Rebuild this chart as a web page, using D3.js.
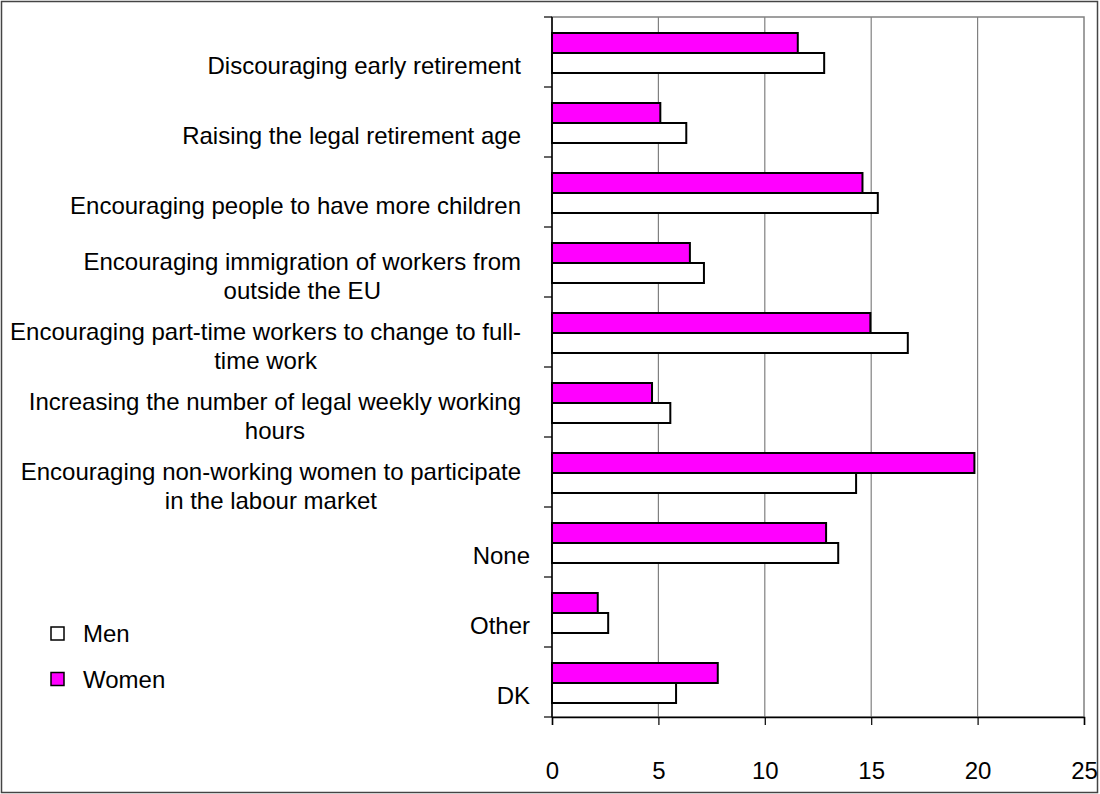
<!DOCTYPE html>
<html>
<head>
<meta charset="utf-8">
<script src="https://cdn.jsdelivr.net/npm/d3@7"></script>
<style>
  body { margin: 0; background: #fff; }
  text { font-family: "Liberation Sans", Arial, sans-serif; fill: #000; }
</style>
</head>
<body>
<div id="graph"></div>
<script>
// chart values
var categories = [
    "Discouraging early retirement",
    "Raising the legal retirement age",
    "Encouraging people to have more children",
    "Encouraging immigration of workers from\noutside the EU",
    "Encouraging part-time workers to change to full-\ntime work",
    "Increasing the number of legal weekly working\nhours",
    "Encouraging non-working women to participate\nin the labour market",
    "None",
    "Other",
    "DK"
];
var women = [11.55, 5.09, 14.59, 6.48, 14.96, 4.70, 19.85, 12.88, 2.15, 7.79];
var men = [12.79, 6.31, 15.31, 7.14, 16.72, 5.56, 14.29, 13.45, 2.64, 5.83];
var seriesNames = ["Women", "Men"];
var legendNames = ["Men", "Women"];
var xTicks = [0, 5, 10, 15, 20, 25];

document.addEventListener('DOMContentLoaded', function() {
    var W = 1100, H = 794;
    var margin = {top: 17, right: 16, bottom: 77, left: 552},
    w = W - margin.left - margin.right,
    h = H - margin.top - margin.bottom;

    var colors = {Men: "#ffffff", Women: "#ff00ff"};

    var x = d3.scaleLinear().domain([0, 25]).range([0, w]);
    var y = d3.scaleBand().domain(categories).range([0, h]).padding(0);
    var ySub = d3.scaleBand().domain(seriesNames).range([1, y.bandwidth() + 1]).paddingInner(0).paddingOuter(0.75);

    var svg = d3.select("#graph").append("svg")
        .attr("width", W)
        .attr("height", H);

    // outer frame
    svg.append("rect")
        .attr("x", 1.5).attr("y", 1.5)
        .attr("width", W - 4).attr("height", H - 3)
        .attr("fill", "none")
        .attr("stroke", "#444")
        .attr("stroke-width", 1.5);

    var g = svg.append("g")
        .attr("transform", "translate(" + margin.left + "," + margin.top + ")");

    // plot area border (top + right) and grid
    g.append("rect")
        .attr("x", 0).attr("y", 0)
        .attr("width", w).attr("height", h)
        .attr("fill", "none")
        .attr("stroke", "#808080")
        .attr("stroke-width", 1.5);

    g.selectAll(".grid")
        .data(xTicks.slice(1, -1))
        .enter().append("line")
        .attr("class", "grid")
        .attr("x1", function(d) { return x(d); })
        .attr("x2", function(d) { return x(d); })
        .attr("y1", 0).attr("y2", h)
        .attr("stroke", "#808080")
        .attr("stroke-width", 1.2);

    // bars
    var rows = categories.map(function(c, i) {
        return {cat: c, Women: women[i], Men: men[i]};
    });

    var grp = g.selectAll(".cat")
        .data(rows)
        .enter().append("g")
        .attr("class", "cat")
        .attr("transform", function(d) { return "translate(0," + y(d.cat) + ")"; });

    grp.selectAll("rect")
        .data(function(d) { return seriesNames.map(function(s) { return {s: s, v: d[s]}; }); })
        .enter().append("rect")
        .attr("x", 0)
        .attr("y", function(d) { return ySub(d.s); })
        .attr("width", function(d) { return x(d.v); })
        .attr("height", ySub.bandwidth())
        .attr("fill", function(d) { return colors[d.s]; })
        .attr("stroke", "#000")
        .attr("stroke-width", 2);

    // y axis: black line + ticks at category boundaries
    var bounds = categories.map(function(c) { return y(c); }).concat([h]);
    g.append("line")
        .attr("x1", 0).attr("x2", 0).attr("y1", 0).attr("y2", h)
        .attr("stroke", "#000").attr("stroke-width", 1.5);
    g.selectAll(".ytick")
        .data(bounds)
        .enter().append("line")
        .attr("class", "ytick")
        .attr("x1", -8).attr("x2", 0)
        .attr("y1", function(d) { return d; })
        .attr("y2", function(d) { return d; })
        .attr("stroke", "#000").attr("stroke-width", 1.2);

    // x axis
    var xAxis = d3.axisBottom(x).tickValues(xTicks).tickSize(8).tickPadding(37);
    var xa = g.append("g")
        .attr("transform", "translate(0," + h + ")")
        .call(xAxis);
    xa.select(".domain").attr("stroke", "#000").attr("stroke-width", 1.5);
    xa.selectAll(".tick line").attr("stroke", "#000").attr("stroke-width", 1.2);
    xa.selectAll(".tick text")
        .style("font-size", "24px")
        .style("font-family", "'Liberation Sans', Arial, sans-serif")
        .attr("fill", "#000");

    // category labels
    var lineH = 29;
    g.selectAll(".ylabel")
        .data(categories)
        .enter().append("text")
        .attr("class", "ylabel")
        .style("font-size", "24px")
        .attr("text-anchor", "middle")
        .each(function(d) {
            var t = d3.select(this);
            var lines = d.split("\n");
            var c = y(d) + y.bandwidth() / 2;
            var first = c + 22 - (lines.length - 1) * lineH / 2;
            lines.forEach(function(l, i) {
                t.append("tspan").attr("x", 0).attr("y", first + i * lineH).text(l);
            });
            var maxW = 0;
            t.selectAll("tspan").each(function() {
                maxW = Math.max(maxW, this.getComputedTextLength());
            });
            var right = maxW < 100 ? -22 : -31;
            t.selectAll("tspan").attr("x", right - maxW / 2);
        });

    // legend
    var leg = svg.selectAll(".legend")
        .data(legendNames)
        .enter().append("g")
        .attr("class", "legend")
        .attr("transform", function(d, i) { return "translate(51," + (627 + i * 45.5) + ")"; });
    leg.append("rect")
        .attr("width", 13).attr("height", 13)
        .attr("fill", function(d) { return colors[d]; })
        .attr("stroke", "#000").attr("stroke-width", 1.5);
    leg.append("text")
        .attr("x", 32).attr("y", 15)
        .style("font-size", "24px")
        .text(function(d) { return d; });
});
</script>
</body>
</html>
